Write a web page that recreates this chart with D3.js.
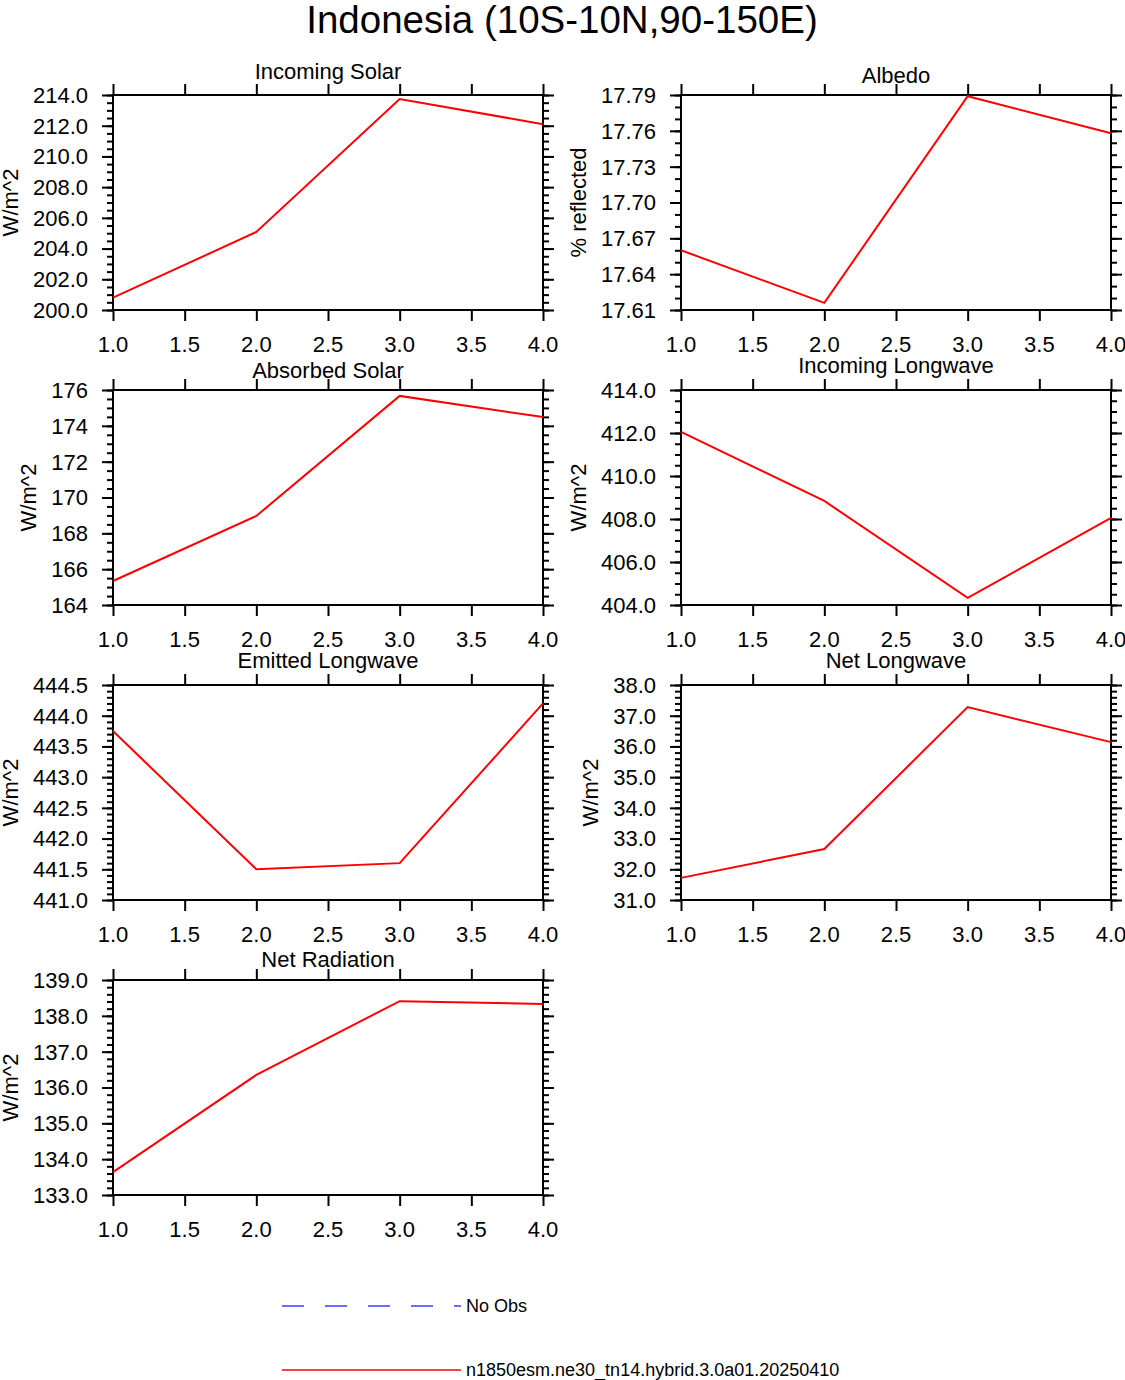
<!DOCTYPE html>
<html>
<head>
<meta charset="utf-8">
<script src="https://cdn.jsdelivr.net/npm/d3@7"></script>
<style>
  html, body { margin: 0; padding: 0; background: #fff; }
  svg { display: block; font-family: "Liberation Sans", Arial, Helvetica, sans-serif; }
</style>
</head>
<body>
<svg id="chart" width="1125" height="1380"></svg>
<script>
// ---------------- data ----------------
const mainTitle = "Indonesia (10S-10N,90-150E)";
const years = [1, 2, 3, 4];
const xTickValues = [1.0, 1.5, 2.0, 2.5, 3.0, 3.5, 4.0];

const panelTitles = ["Incoming Solar", "Albedo", "Absorbed Solar", "Incoming Longwave",
                     "Emitted Longwave", "Net Longwave", "Net Radiation"];
const panelYLabels = ["W/m^2", "% reflected", "W/m^2", "W/m^2", "W/m^2", "W/m^2", "W/m^2"];

const incomingSolar    = [200.80, 205.08, 213.74, 212.10];
const albedo           = [17.660, 17.616, 17.789, 17.758];
const absorbedSolar    = [165.34, 168.97, 175.67, 174.49];
const incomingLongwave = [412.05, 408.84, 404.33, 408.05];
const emittedLongwave  = [443.75, 441.50, 441.60, 444.20];
const netLongwave      = [31.72, 32.66, 37.28, 36.14];
const netRadiation     = [133.64, 136.35, 138.41, 138.33];

const seriesValues = [incomingSolar, albedo, absorbedSolar, incomingLongwave,
                      emittedLongwave, netLongwave, netRadiation];

const yDomains = [[200, 214], [17.61, 17.79], [164, 176], [404, 414],
                  [441, 444.5], [31, 38], [133, 139]];
const yMajorSteps = [2, 0.03, 2, 2, 0.5, 1, 1];
const yMinorSteps = [0.5, 0.01, 0.5, 0.5, 0.1, 0.2, 0.2];
const yFormats = [".1f", ".2f", ".0f", ".1f", ".1f", ".1f", ".1f"];

const legendLabels = ["No Obs", "n1850esm.ne30_tn14.hybrid.3.0a01.20250410"];
const legendColors = ["#3c3cff", "#ff0000"];
const legendDashes = ["22,21", null];

// ---------------- layout ----------------
const colX = [113, 681];
const rowY = [95, 390, 685, 980];
const panelW = 430, panelH = 215;
const titleDy = [-16, -12, -12, -17, -17, -17, -13];
const majorLen = 11, minorLen = 6;
const fontTick = 22, fontTitle = 22;

const svg = d3.select("#chart");

svg.append("text")
  .attr("x", 562).attr("y", 33)
  .attr("text-anchor", "middle")
  .attr("font-size", 38.5)
  .text(mainTitle);

function stepTicks(domain, step) {
  const out = [];
  const n = Math.round((domain[1] - domain[0]) / step);
  for (let i = 0; i <= n; i++) out.push(domain[0] + i * step);
  return out;
}

panelTitles.forEach((title, i) => {
  const px = colX[i % 2], py = rowY[Math.floor(i / 2)];
  const g = svg.append("g").attr("transform", `translate(${px},${py})`);

  const x = d3.scaleLinear().domain([1, 4]).range([0, panelW]);
  const y = d3.scaleLinear().domain(yDomains[i]).range([panelH, 0]);

  const majors = stepTicks(yDomains[i], yMajorSteps[i]);
  const minors = stepTicks(yDomains[i], yMinorSteps[i]);
  const fmtY = d3.format(yFormats[i]);
  const fmtX = d3.format(".1f");

  const yMinorLeft = d3.axisLeft(y).tickValues(minors).tickSize(minorLen).tickFormat("");
  const yMinorRight = d3.axisRight(y).tickValues(minors).tickSize(minorLen).tickFormat("");
  const yMajorLeft = d3.axisLeft(y).tickValues(majors).tickSize(majorLen).tickFormat("");
  const yMajorRight = d3.axisRight(y).tickValues(majors).tickSize(majorLen).tickFormat("");
  const xTop = d3.axisTop(x).tickValues(xTickValues).tickSize(majorLen).tickFormat("");
  const xBottom = d3.axisBottom(x).tickValues(xTickValues).tickSize(majorLen).tickFormat("");

  const axes = [
    [yMinorLeft, 0, 0], [yMajorLeft, 0, 0],
    [yMinorRight, panelW, 0], [yMajorRight, panelW, 0],
    [xTop, 0, 0], [xBottom, 0, panelH]
  ];
  axes.forEach(([ax, tx, ty]) => {
    const a = g.append("g").attr("transform", `translate(${tx},${ty})`).call(ax);
    a.select(".domain").remove();
    a.selectAll("line").attr("stroke", "#000").attr("stroke-width", 2);
  });

  g.append("rect")
    .attr("x", 0).attr("y", 0).attr("width", panelW).attr("height", panelH)
    .attr("fill", "none").attr("stroke", "#000").attr("stroke-width", 2);

  const yl = g.append("g");
  yl.selectAll("text").data(majors).join("text")
    .attr("x", -25).attr("y", d => y(d))
    .attr("dy", "0.36em")
    .attr("text-anchor", "end")
    .attr("font-size", fontTick)
    .text(d => fmtY(d));

  g.append("g").selectAll("text").data(xTickValues).join("text")
    .attr("x", d => x(d)).attr("y", panelH + 42)
    .attr("text-anchor", "middle")
    .attr("font-size", fontTick)
    .text(d => fmtX(d));

  const line = d3.line().x((d, k) => x(years[k])).y(d => y(d));
  g.append("path")
    .datum(seriesValues[i])
    .attr("d", line)
    .attr("fill", "none")
    .attr("stroke", "#ff0000")
    .attr("stroke-width", 2);

  g.append("text")
    .attr("x", panelW / 2).attr("y", titleDy[i])
    .attr("text-anchor", "middle")
    .attr("font-size", fontTitle)
    .text(title);

  let minLeft = 0;
  yl.selectAll("text").each(function () {
    const b = this.getBBox();
    minLeft = Math.min(minLeft, b.x);
  });
  const lx = minLeft - 15;
  g.append("text")
    .attr("transform", `translate(${lx},${panelH / 2}) rotate(-90)`)
    .attr("text-anchor", "middle")
    .attr("font-size", fontTitle)
    .text(panelYLabels[i]);
});

const legendY = [1306, 1370];
legendLabels.forEach((lab, i) => {
  const ln = svg.append("line")
    .attr("x1", 282).attr("x2", 461)
    .attr("y1", legendY[i]).attr("y2", legendY[i])
    .attr("stroke", legendColors[i])
    .attr("stroke-width", 1.5);
  if (legendDashes[i]) ln.attr("stroke-dasharray", legendDashes[i]);
  svg.append("text")
    .attr("x", 466).attr("y", legendY[i])
    .attr("dy", "0.36em")
    .attr("font-size", 18)
    .text(lab);
});
</script>
</body>
</html>
